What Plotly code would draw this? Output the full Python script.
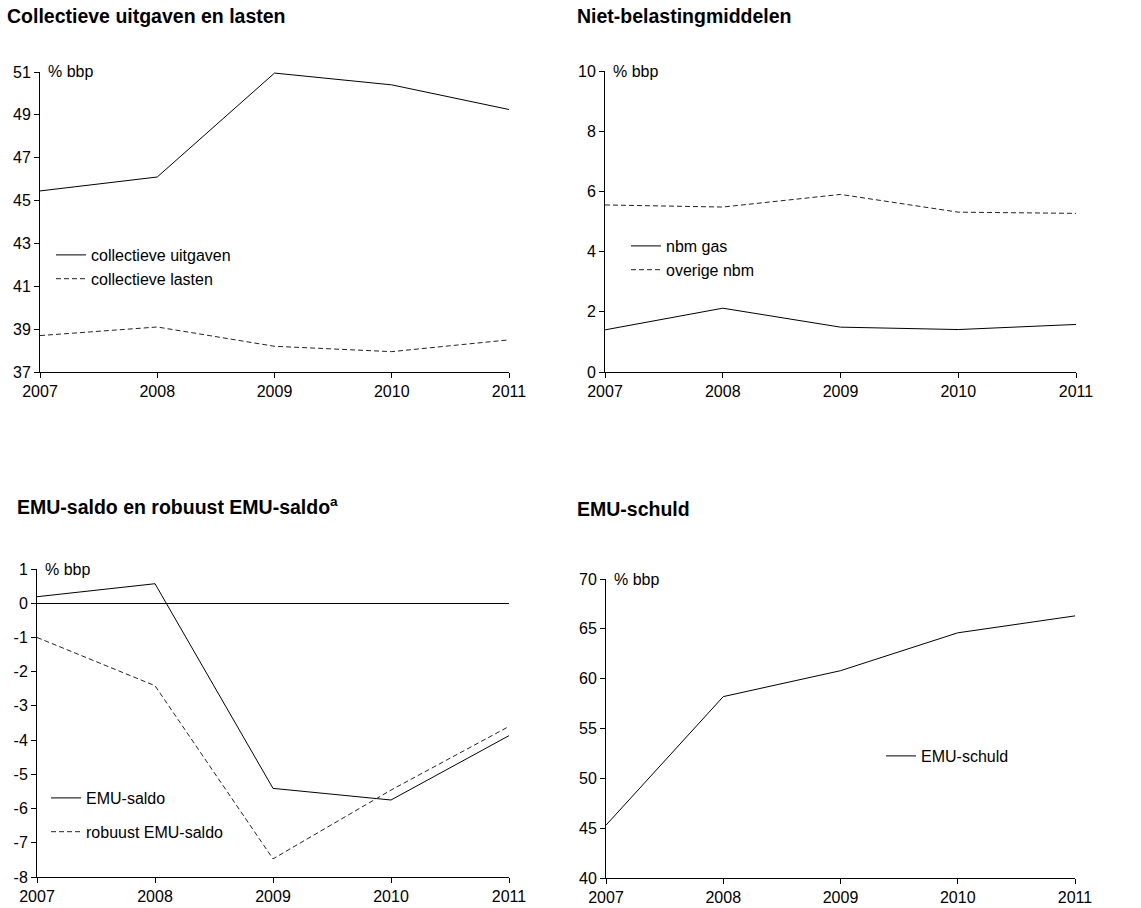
import plotly.graph_objects as go

years = [2007, 2008, 2009, 2010, 2011]

# Panel 1: Collectieve uitgaven en lasten (% bbp)
coll_uitgaven = [45.45, 46.1, 50.95, 50.4, 49.25]
coll_lasten = [38.7, 39.1, 38.2, 37.95, 38.5]

# Panel 2: Niet-belastingmiddelen (% bbp)
nbm_gas = [1.4, 2.12, 1.49, 1.41, 1.58]
overige_nbm = [5.55, 5.48, 5.9, 5.31, 5.27]

# Panel 3: EMU-saldo en robuust EMU-saldo (% bbp)
emu_saldo = [0.19, 0.57, -5.41, -5.75, -3.87]
robuust_emu_saldo = [-1.0, -2.41, -7.47, -5.46, -3.6]

# Panel 4: EMU-schuld (% bbp)
emu_schuld = [45.3, 58.2, 60.8, 64.6, 66.3]

# Tick values per panel
y1_ticks = [37, 39, 41, 43, 45, 47, 49, 51]
y2_ticks = [0, 2, 4, 6, 8, 10]
y3_ticks = [-8, -7, -6, -5, -4, -3, -2, -1, 0, 1]
y4_ticks = [40, 45, 50, 55, 60, 65, 70]

W, H = 1141, 908
FONT = "Liberation Sans, Arial, sans-serif"
FS = 16


def xd(a, b):
    return [a / W, b / W]


def yd(top, bottom):
    return [1 - bottom / H, 1 - top / H]


fig = go.Figure()

solid = dict(color="black", width=1)
dashed = dict(color="#222222", width=1, dash="5px,3px")

fig.add_trace(go.Scatter(x=years, y=coll_uitgaven, mode="lines", line=solid,
                         name="collectieve uitgaven", xaxis="x", yaxis="y",
                         legend="legend"))
fig.add_trace(go.Scatter(x=years, y=coll_lasten, mode="lines", line=dashed,
                         name="collectieve lasten", xaxis="x", yaxis="y",
                         legend="legend"))

fig.add_trace(go.Scatter(x=years, y=nbm_gas, mode="lines", line=solid,
                         name="nbm gas", xaxis="x2", yaxis="y2", legend="legend2"))
fig.add_trace(go.Scatter(x=years, y=overige_nbm, mode="lines", line=dashed,
                         name="overige nbm", xaxis="x2", yaxis="y2", legend="legend2"))

fig.add_trace(go.Scatter(x=years, y=emu_saldo, mode="lines", line=solid,
                         name="EMU-saldo", xaxis="x3", yaxis="y3", legend="legend3",
                         legendgroup="a"))
fig.add_trace(go.Scatter(x=years, y=robuust_emu_saldo, mode="lines", line=dashed,
                         name="robuust EMU-saldo", xaxis="x3", yaxis="y3",
                         legend="legend3", legendgroup="b"))

fig.add_trace(go.Scatter(x=years, y=emu_schuld, mode="lines", line=solid,
                         name="EMU-schuld", xaxis="x4", yaxis="y4", legend="legend4"))

axis_common = dict(showline=True, linecolor="black", linewidth=1, ticks="outside",
                   ticklen=5, tickcolor="black", tickwidth=1, showgrid=False,
                   zeroline=False, automargin=False,
                   tickfont=dict(family=FONT, size=FS, color="black"),
                   fixedrange=True)

xcommon = dict(axis_common, range=[2007, 2011], tickmode="array", tickvals=years,
               ticktext=[str(y) for y in years])


def ycommon(ticks):
    return dict(axis_common, range=[ticks[0], ticks[-1]], tickmode="array",
                tickvals=ticks, ticktext=[str(t) for t in ticks])


layout = dict(
    width=W, height=H,
    margin=dict(l=0, r=0, t=0, b=0, autoexpand=False),
    paper_bgcolor="white", plot_bgcolor="white",
    font=dict(family=FONT, size=FS, color="black"),
    showlegend=True,
    xaxis=dict(xcommon, domain=xd(40, 509), anchor="y"),
    yaxis=dict(ycommon(y1_ticks), domain=yd(72, 372), anchor="x"),
    xaxis2=dict(xcommon, domain=xd(605, 1076), anchor="y2"),
    yaxis2=dict(ycommon(y2_ticks), domain=yd(71, 372), anchor="x2"),
    xaxis3=dict(xcommon, domain=xd(37, 509), anchor="y3"),
    yaxis3=dict(ycommon(y3_ticks), domain=yd(569, 877), anchor="x3", zeroline=True,
                zerolinecolor="black", zerolinewidth=1),
    xaxis4=dict(xcommon, domain=xd(606, 1075), anchor="y4"),
    yaxis4=dict(ycommon(y4_ticks), domain=yd(579, 878), anchor="x4"),
)

leg_common = dict(bgcolor="rgba(0,0,0,0)", borderwidth=0, xanchor="left",
                  yanchor="top", font=dict(family=FONT, size=FS, color="black"),
                  itemclick=False, itemdoubleclick=False)
layout["legend"] = dict(leg_common, x=51 / W, y=1 - 238 / H)
layout["legend2"] = dict(leg_common, x=626 / W, y=1 - 229 / H)
layout["legend3"] = dict(leg_common, x=46 / W, y=1 - 781 / H, tracegroupgap=10)
layout["legend4"] = dict(leg_common, x=881 / W, y=1 - 739 / H)

fig.update_layout(**layout)

title_font = dict(family=FONT, size=19.5, color="black")
titles = [
    ("<b>Collectieve uitgaven en lasten</b>", 5, 16),
    ("<b>Niet-belastingmiddelen</b>", 575, 16),
    ("<b>EMU-saldo en robuust EMU-saldo<sup>a</sup></b>", 15, 506),
    ("<b>EMU-schuld</b>", 575, 509),
]
for text, px, py in titles:
    fig.add_annotation(text=text, xref="paper", yref="paper", x=px / W, y=1 - py / H,
                       xanchor="left", yanchor="middle", showarrow=False,
                       font=title_font)

units = [("x", "y", 51), ("x2", "y2", 10), ("x3", "y3", 1), ("x4", "y4", 70)]
for xr, yr, ytop in units:
    fig.add_annotation(text="% bbp", xref=xr, yref=yr, x=2007, y=ytop,
                       xanchor="left", yanchor="middle", xshift=6, showarrow=False,
                       font=dict(family=FONT, size=FS, color="black"))

fig.write_html("out.html",
               config={"displayModeBar": False},
               post_script="document.body.style.margin='0';"
                           "document.body.style.overflow='hidden';")
